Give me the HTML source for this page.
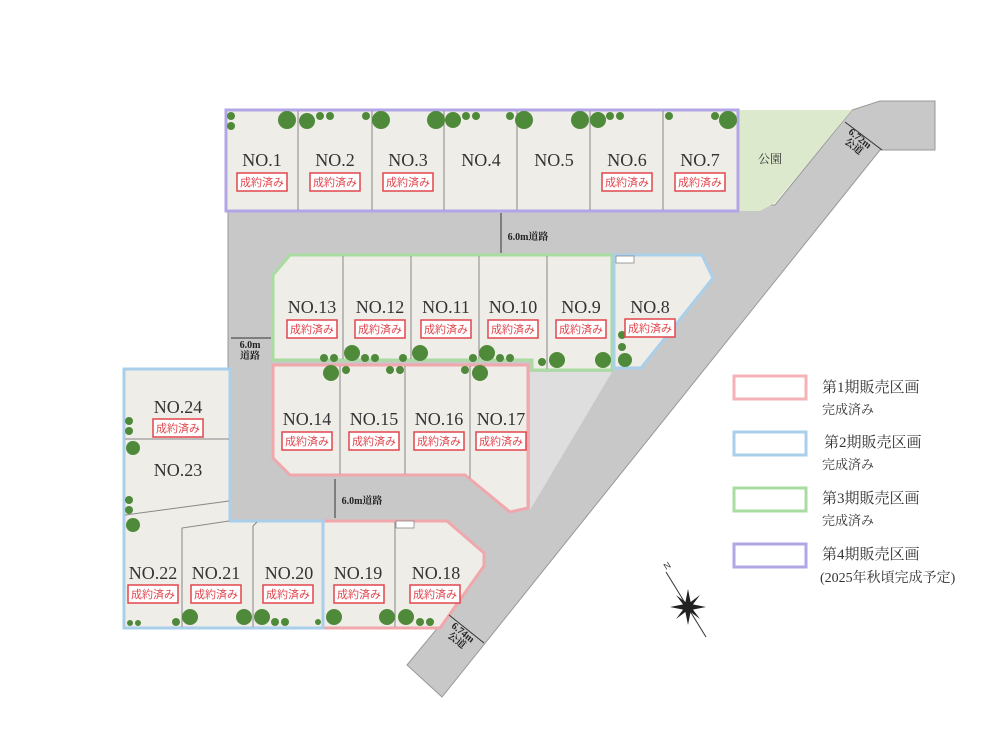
<!DOCTYPE html>
<html><head><meta charset="utf-8"><style>
html,body{margin:0;padding:0;background:#fff;}
svg{display:block;}
.n{font-family:"Liberation Serif","Noto Serif CJK SC",serif;font-size:18px;fill:#333;text-anchor:middle;}
.b{font-family:"Liberation Sans","Noto Sans CJK JP",sans-serif;font-size:11px;fill:#e0464e;text-anchor:middle;}
.r{font-family:"Liberation Serif","Noto Serif CJK SC",serif;font-size:10px;fill:#222;font-weight:bold;text-anchor:middle;}
.lg{font-family:"Liberation Serif","Noto Serif CJK SC",serif;fill:#333;}
</style></head><body>
<svg width="1000" height="750" viewBox="0 0 1000 750" xmlns="http://www.w3.org/2000/svg">
<defs>
<g id="bx"><rect x="-25" y="-9" width="50" height="18" fill="#fff" stroke="#e0464e" stroke-width="1.5"/></g>
</defs>
<rect width="1000" height="750" fill="#fff"/>
<!-- road -->
<polygon points="228,205 775,205 852,110 880,101 935,101 935,150 880,150 442,697 407,665 440,625 228,625" fill="#c8c8c8" stroke="#999" stroke-width="1"/>
<polygon points="530,372 612,372 530,510" fill="#dedede"/>
<!-- park -->
<polygon points="738,110 852,110 775,203 760,211 738,211" fill="#dde9cc"/>
<text x="770" y="163" class="lg" font-size="12" text-anchor="middle">公園</text>

<!-- phase 4 -->
<rect x="226" y="110" width="512" height="101" fill="#efede8" stroke="#b3a6e6" stroke-width="3"/>
<g stroke="#888" stroke-width="1">
<line x1="298" y1="111" x2="298" y2="210"/><line x1="372" y1="111" x2="372" y2="210"/><line x1="444" y1="111" x2="444" y2="210"/><line x1="517" y1="111" x2="517" y2="210"/><line x1="590" y1="111" x2="590" y2="210"/><line x1="663" y1="111" x2="663" y2="210"/>
</g>

<!-- phase 3 -->
<polygon points="290,255 612,255 612,370 532,370 532,360 273,360 273,275" fill="#efede8" stroke="#a8dca0" stroke-width="3"/>
<g stroke="#888" stroke-width="1">
<line x1="343" y1="256" x2="343" y2="359"/><line x1="411" y1="256" x2="411" y2="359"/><line x1="479" y1="256" x2="479" y2="359"/><line x1="547" y1="256" x2="547" y2="369"/>
</g>

<!-- NO.8 -->
<polygon points="614,255 702,255 713,278 641,368 614,368" fill="#efede8" stroke="#a9cfea" stroke-width="3"/>
<rect x="616" y="256" width="18" height="7" fill="#fff" stroke="#888" stroke-width="0.8"/>

<!-- phase 1 upper -->
<polygon points="273,365 528,365 528,508 510,512 465,475 290,475 273,458" fill="#efede8" stroke="#f0a8ac" stroke-width="3"/>
<g stroke="#888" stroke-width="1">
<line x1="340" y1="366" x2="340" y2="474"/><line x1="405" y1="366" x2="405" y2="474"/><line x1="470" y1="366" x2="470" y2="478"/>
</g>

<!-- phase 1 lower -->
<polygon points="323,521 447,521 484,553 484,566 440,628 323,628" fill="#efede8" stroke="#f0a8ac" stroke-width="3"/>
<line x1="395" y1="522" x2="395" y2="627" stroke="#888"/>
<rect x="396" y="521" width="18" height="7" fill="#fff" stroke="#888" stroke-width="0.8"/>

<!-- phase 2 lower-left -->
<polygon points="124,369 230,369 230,521 323,521 323,628 124,628" fill="#efede8" stroke="#a9cfea" stroke-width="3"/>
<g stroke="#888" stroke-width="1" fill="none">
<line x1="125" y1="439" x2="229" y2="439"/>
<line x1="125" y1="515" x2="229" y2="501"/>
<polyline points="182,627 182,528 229,521"/>
<polyline points="253,627 253,526 257,522"/>
</g>

<!-- trees -->
<g fill="#4f8a3a">
<circle cx="231" cy="116" r="4"/><circle cx="231" cy="126" r="4"/><circle cx="287" cy="120" r="9"/><circle cx="307" cy="121" r="8"/><circle cx="320" cy="116" r="4"/><circle cx="330" cy="116" r="4"/>
<circle cx="366" cy="116" r="4"/><circle cx="381" cy="120" r="9"/><circle cx="436" cy="120" r="9"/><circle cx="453" cy="120" r="8"/><circle cx="466" cy="116" r="4"/><circle cx="476" cy="116" r="4"/>
<circle cx="510" cy="116" r="4"/><circle cx="524" cy="120" r="9"/><circle cx="580" cy="120" r="9"/><circle cx="598" cy="120" r="8"/><circle cx="610" cy="116" r="4"/><circle cx="620" cy="116" r="4"/>
<circle cx="669" cy="116" r="4"/><circle cx="715" cy="116" r="4"/><circle cx="728" cy="120" r="9"/>
<circle cx="324" cy="358" r="4"/><circle cx="334" cy="358" r="4"/><circle cx="352" cy="353" r="8"/><circle cx="365" cy="358" r="4"/><circle cx="375" cy="358" r="4"/><circle cx="403" cy="358" r="4"/><circle cx="420" cy="353" r="8"/>
<circle cx="473" cy="358" r="4"/><circle cx="487" cy="353" r="8"/><circle cx="500" cy="358" r="4"/><circle cx="510" cy="358" r="4"/>
<circle cx="542" cy="362" r="4"/><circle cx="557" cy="360" r="8"/><circle cx="603" cy="360" r="8"/>
<circle cx="622" cy="335" r="4"/><circle cx="622" cy="347" r="4"/><circle cx="625" cy="360" r="7"/>
<circle cx="331" cy="373" r="8"/><circle cx="346" cy="370" r="4"/><circle cx="390" cy="370" r="4"/><circle cx="400" cy="370" r="4"/><circle cx="465" cy="370" r="4"/><circle cx="480" cy="373" r="8"/>
<circle cx="129" cy="421" r="4"/><circle cx="129" cy="431" r="4"/><circle cx="133" cy="448" r="7"/><circle cx="129" cy="500" r="4"/><circle cx="129" cy="510" r="4"/><circle cx="133" cy="525" r="7"/>
<circle cx="130" cy="623" r="3"/><circle cx="138" cy="623" r="3"/><circle cx="176" cy="622" r="4"/><circle cx="190" cy="617" r="8"/><circle cx="244" cy="617" r="8"/><circle cx="262" cy="617" r="8"/><circle cx="275" cy="622" r="4"/><circle cx="285" cy="622" r="4"/><circle cx="318" cy="622" r="3"/>
<circle cx="334" cy="617" r="8"/><circle cx="387" cy="617" r="8"/><circle cx="406" cy="617" r="8"/><circle cx="420" cy="622" r="4"/><circle cx="430" cy="622" r="4"/>
</g>

<!-- lot labels -->
<g class="n">
<text x="262" y="166">NO.1</text><text x="335" y="166">NO.2</text><text x="408" y="166">NO.3</text><text x="481" y="166">NO.4</text><text x="554" y="166">NO.5</text><text x="627" y="166">NO.6</text><text x="700" y="166">NO.7</text>
<text x="312" y="313">NO.13</text><text x="380" y="313">NO.12</text><text x="446" y="313">NO.11</text><text x="513" y="313">NO.10</text><text x="581" y="313">NO.9</text><text x="650" y="313">NO.8</text>
<text x="307" y="425">NO.14</text><text x="374" y="425">NO.15</text><text x="439" y="425">NO.16</text><text x="501" y="425">NO.17</text>
<text x="178" y="413">NO.24</text><text x="178" y="476">NO.23</text>
<text x="153" y="579">NO.22</text><text x="216" y="579">NO.21</text><text x="289" y="579">NO.20</text><text x="358" y="579">NO.19</text><text x="436" y="579">NO.18</text>
</g>
<g>
<use href="#bx" x="262" y="182"/><use href="#bx" x="335" y="182"/><use href="#bx" x="408" y="182"/><use href="#bx" x="627" y="182"/><use href="#bx" x="700" y="182"/>
<use href="#bx" x="312" y="329"/><use href="#bx" x="380" y="329"/><use href="#bx" x="446" y="329"/><use href="#bx" x="513" y="329"/><use href="#bx" x="581" y="329"/><use href="#bx" x="650" y="328"/>
<use href="#bx" x="307" y="441"/><use href="#bx" x="374" y="441"/><use href="#bx" x="439" y="441"/><use href="#bx" x="501" y="441"/>
<use href="#bx" x="178" y="428"/>
<use href="#bx" x="153" y="594"/><use href="#bx" x="216" y="594"/><use href="#bx" x="288" y="594"/><use href="#bx" x="359" y="594"/><use href="#bx" x="435" y="594"/>
</g>
<g class="b">
<text x="262" y="186">成約済み</text><text x="335" y="186">成約済み</text><text x="408" y="186">成約済み</text><text x="627" y="186">成約済み</text><text x="700" y="186">成約済み</text>
<text x="312" y="333">成約済み</text><text x="380" y="333">成約済み</text><text x="446" y="333">成約済み</text><text x="513" y="333">成約済み</text><text x="581" y="333">成約済み</text><text x="650" y="332">成約済み</text>
<text x="307" y="445">成約済み</text><text x="374" y="445">成約済み</text><text x="439" y="445">成約済み</text><text x="501" y="445">成約済み</text>
<text x="178" y="432">成約済み</text>
<text x="153" y="598">成約済み</text><text x="216" y="598">成約済み</text><text x="288" y="598">成約済み</text><text x="359" y="598">成約済み</text><text x="435" y="598">成約済み</text>
</g>

<!-- road dimension labels -->
<g stroke="#333" stroke-width="1">
<line x1="501" y1="213" x2="501" y2="253"/><line x1="231" y1="338" x2="271" y2="338"/><line x1="335" y1="479" x2="335" y2="518"/>
<line x1="845" y1="122" x2="882" y2="150"/><line x1="449" y1="615" x2="484" y2="643"/>
</g>
<text x="528" y="240" class="r">6.0m道路</text>
<text x="250" y="348" class="r">6.0m</text><text x="250" y="359" class="r">道路</text>
<text x="362" y="504" class="r">6.0m道路</text>
<g transform="translate(858,141) rotate(38)"><text x="0" y="0" class="r">6.72m</text><text x="0" y="10" class="r">公道</text></g>
<g transform="translate(461,635) rotate(38)"><text x="0" y="0" class="r">6.74m</text><text x="0" y="10" class="r">公道</text></g>

<!-- legend -->
<rect x="734" y="376" width="72" height="23" fill="#fff" stroke="#f4b3b6" stroke-width="3"/>
<rect x="734" y="432" width="72" height="23" fill="#fff" stroke="#a9cfea" stroke-width="3"/>
<rect x="734" y="488" width="72" height="23" fill="#fff" stroke="#a8dca0" stroke-width="3"/>
<rect x="734" y="544" width="72" height="23" fill="#fff" stroke="#b3a6e6" stroke-width="3"/>
<g class="lg">
<text x="822" y="392" font-size="15">第1期販売区画</text><text x="822" y="414" font-size="13">完成済み</text>
<text x="824" y="447" font-size="15">第2期販売区画</text><text x="822" y="469" font-size="13">完成済み</text>
<text x="822" y="503" font-size="15">第3期販売区画</text><text x="822" y="525" font-size="13">完成済み</text>
<text x="822" y="559" font-size="15">第4期販売区画</text><text x="820" y="582" font-size="14">(2025年秋頃完成予定)</text>
</g>

<!-- compass -->
<g transform="translate(688,607)">
<line x1="-22" y1="-35" x2="18" y2="30" stroke="#333" stroke-width="1"/>
<g fill="#222">
<polygon points="0,-18 3,-3 0,0 -3,-3"/><polygon points="0,18 3,3 0,0 -3,3"/><polygon points="-18,0 -3,3 0,0 -3,-3"/><polygon points="18,0 3,3 0,0 3,-3"/>
<polygon points="-12,-12 0,-3 0,0 -3,0"/><polygon points="12,12 0,3 0,0 3,0"/><polygon points="12,-12 3,0 0,0 0,-3"/><polygon points="-12,12 -3,0 0,0 0,3"/>
</g>
<text x="-22" y="-37" font-family="Liberation Sans,sans-serif" font-size="9" fill="#333" transform="rotate(-32 -22 -37)">N</text>
</g>
</svg>
</body></html>
